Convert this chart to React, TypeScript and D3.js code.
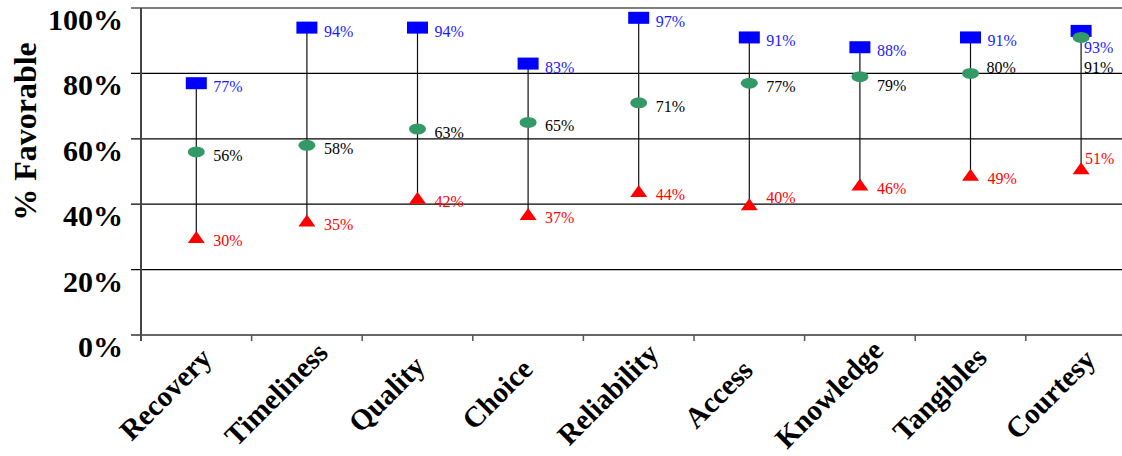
import React, { useEffect } from "react";
import * as d3 from "d3";

const categories = ["Recovery", "Timeliness", "Quality", "Choice", "Reliability", "Access", "Knowledge", "Tangibles", "Courtesy"];
const highValues = [0.77, 0.94, 0.94, 0.83, 0.97, 0.91, 0.88, 0.91, 0.93];
const midValues = [0.56, 0.58, 0.63, 0.65, 0.71, 0.77, 0.79, 0.80, 0.91];
const lowValues = [0.30, 0.35, 0.42, 0.37, 0.44, 0.40, 0.46, 0.49, 0.51];
const yTicks = [0, 0.2, 0.4, 0.6, 0.8, 1.0];

// label placement tweaks (layout only)
const labelNudges: Record<string, { dx: number; dy: number }> = {
  "Access-low": { dx: 17, dy: -1.5 },
  "Knowledge-mid": { dx: 17, dy: 14 },
  "Tangibles-mid": { dx: 16, dy: 0 },
  "Courtesy-high": { dx: 3, dy: 22.5 },
  "Courtesy-mid": { dx: 3, dy: 36 },
  "Courtesy-low": { dx: 4, dy: -4 },
};

const W = 1122;
const H = 456;
const left = 141;
const bandW = 110.6;
const top = 8;
const bottom = 335;
const serif = "'Liberation Serif', 'Times New Roman', Times, serif";

export default function App() {
  useEffect(() => {
    document.body.style.margin = "0";
  }, []);

  const x = d3.scaleBand<string>().domain(categories).range([left, left + bandW * categories.length]);
  const y = d3.scaleLinear().domain([0, 1]).range([bottom, top]);
  const fmt = d3.format(".0%");
  const cx = (c: string) => (x(c) as number) + x.bandwidth() / 2;
  const triPath = (cxv: number, cyv: number) => {
    const w = 17, h = 12;
    return `M${cxv},${cyv - h / 2}L${cxv + w / 2},${cyv + h / 2}L${cxv - w / 2},${cyv + h / 2}Z`;
  };

  const label = (c: string, key: string, v: number, color: string) => {
    const n = labelNudges[`${c}-${key}`] || { dx: 17, dy: 9 };
    return (
      <text key={`${c}-${key}-l`} x={cx(c) + n.dx} y={y(v) + n.dy} fontFamily={serif} fontSize={16} fill={color}>
        {fmt(v)}
      </text>
    );
  };

  return (
    <svg width={W} height={H} style={{ position: "absolute", left: 0, top: 0, display: "block" }}>
      <rect x={0} y={0} width={W} height={H} fill="#fff" />
      {yTicks.filter((t) => t > 0).map((t) => (
        <line key={`g${t}`} x1={131} x2={W} y1={y(t)} y2={y(t)} stroke="#000" strokeWidth={1.2} />
      ))}
      <line x1={131} x2={W} y1={bottom} y2={bottom} stroke="#333" strokeWidth={1.6} />
      <line x1={left} x2={left} y1={top} y2={bottom + 6} stroke="#444" strokeWidth={2} />
      {d3.range(categories.length + 1).map((i) => (
        <line key={`xt${i}`} x1={left + i * bandW} x2={left + i * bandW} y1={bottom} y2={bottom + 6} stroke="#555" strokeWidth={1.5} />
      ))}
      {yTicks.map((t) => (
        <text key={`yt${t}`} x={123} y={y(t) + 22} textAnchor="end" fontFamily={serif} fontWeight="bold" fontSize={30} fill="#000">
          {fmt(t)}
        </text>
      ))}
      <text transform={`translate(36,131.5) rotate(-90)`} textAnchor="middle" fontFamily={serif} fontWeight="bold" fontSize={32} fill="#000">
        % Favorable
      </text>
      {categories.map((c) => (
        <text
          key={`xl${c}`}
          transform={`translate(${cx(c) - 31},394) rotate(-45)`}
          textAnchor="middle"
          dominantBaseline="central"
          fontFamily={serif}
          fontWeight="bold"
          fontSize={29}
          fill="#000"
        >
          {c}
        </text>
      ))}
      {categories.map((c, i) => (
        <line key={`hl${c}`} x1={cx(c)} x2={cx(c)} y1={y(highValues[i])} y2={y(lowValues[i])} stroke="#111" strokeWidth={1.2} />
      ))}
      {categories.map((c, i) => (
        <g key={`m${c}`}>
          <rect x={cx(c) - 10.5} y={y(highValues[i]) - 6} width={21} height={12} fill="#0000ff" />
          <path d={triPath(cx(c), y(lowValues[i]))} fill="#ff0000" />
          <ellipse cx={cx(c)} cy={y(midValues[i])} rx={8.5} ry={5.5} fill="#339966" />
        </g>
      ))}
      {categories.map((c, i) => (
        <g key={`lb${c}`}>
          {label(c, "high", highValues[i], "#1a1aff")}
          {label(c, "mid", midValues[i], "#000")}
          {label(c, "low", lowValues[i], "#ff0000")}
        </g>
      ))}
    </svg>
  );
}
